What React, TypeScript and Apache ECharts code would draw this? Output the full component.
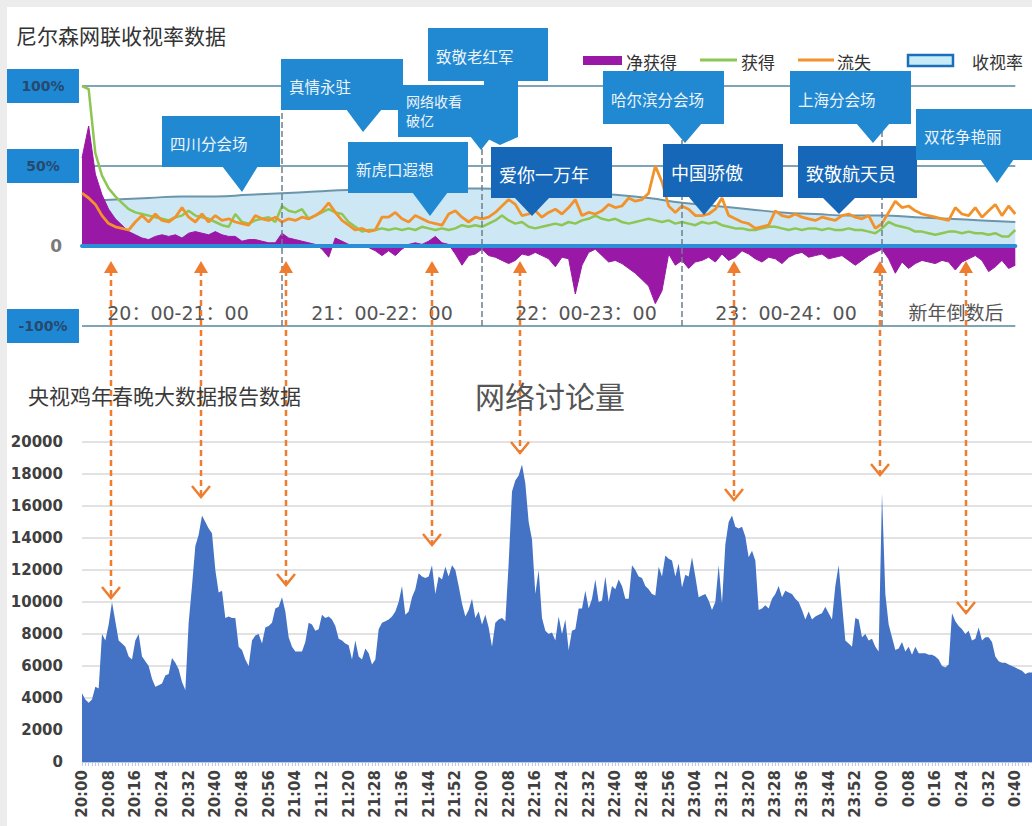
import React, { useEffect, useRef } from "react";
import * as echarts from "echarts";

// ---------- DATA ----------
// Top chart (Nielsen), one value every 2 minutes from 20:00 to 0:40 (percent)
const gainData = [
  100, 98, 58, 44, 36, 31, 27, 23, 21, 20,
  19, 18, 17, 16, 18, 19, 22, 19, 18, 17,
  15, 13, 12, 20, 15, 14, 16, 17, 18, 15,
  25, 22, 21, 23, 17, 19, 21, 23, 21, 20,
  15, 12, 9, 10, 10, 11, 10, 11, 10, 11,
  10, 12, 11, 10, 11, 10, 11, 13, 12, 13,
  12, 14, 16, 19, 16, 14, 15, 12, 11, 12,
  13, 14, 13, 15, 14, 16, 17, 19, 17, 16,
  17, 15, 14, 15, 16, 17, 16, 15, 16, 14,
  15, 14, 13, 15, 14, 15, 13, 12, 11, 11,
  10, 10, 11, 12, 12, 11, 10, 11, 10, 11,
  11, 10, 11, 10, 10, 11, 10, 10, 9, 8,
  11, 15, 13, 12, 11, 9, 9, 8, 7, 8,
  9, 9, 8, 9, 8, 8, 7, 8, 6, 6,
  10,
];
const lossData = [
  33, 30, 26, 19, 14, 12, 11, 10, 15, 19,
  15, 20, 16, 15, 18, 24, 18, 15, 20, 15,
  19, 16, 17, 15, 14, 13, 19, 17, 16, 18,
  15, 17, 16, 18, 17, 19, 22, 27, 21, 16,
  13, 10, 11, 9, 10, 18, 18, 21, 17, 15,
  19, 17, 15, 14, 13, 20, 22, 18, 15, 18,
  17, 18, 21, 25, 29, 26, 19, 20, 22, 18,
  21, 23, 20, 24, 29, 19, 21, 20, 22, 26,
  24, 25, 30, 28, 29, 33, 50, 40, 25, 21,
  25, 23, 19, 19, 20, 23, 30, 19, 17, 15,
  14, 11, 12, 13, 22, 19, 18, 20, 18, 17,
  16, 18, 17, 16, 19, 20, 18, 17, 19, 11,
  14, 21, 28, 24, 25, 22, 20, 19, 18, 17,
  16, 24, 20, 19, 24, 18, 22, 26, 19, 25,
  20,
];
const netData = [
  55, 75, 45, 32, 23, 17, 13, 9, 7, 5,
  4, 6, 7, 6, 7, 5, 8, 9, 8, 7,
  9, 7, 6, 6, 3, 4, 4, 3, 2, 2,
  8, 5, 4, 3, 2, 1, -2, -7, 5, 3,
  1, 0, 1, -1, -3, -6, -3, -6, -2, 1,
  2, 1, 3, 6, 2, 1, -5, -12, -6, -5,
  -2, -6, -7, -9, -11, -9, -5, -6, -4, -6,
  -8, -13, -7, -8, -30, -12, -4, -2, -6, -10,
  -9, -11, -14, -17, -21, -25, -36, -28, -5, -12,
  -9, -14, -10, -9, -7, -10, -5, -9, -7, -3,
  -5, -8, -10, -7, -8, -11, -7, -5, -4, -7,
  -6, -5, -8, -7, -6, -9, -12, -9, -6, -4,
  -2, -8, -17, -10, -14, -11, -9, -10, -11, -9,
  -10, -15, -10, -8, -6, -9, -16, -13, -9, -14,
  -12,
];
// Rating, one value every 10 minutes from 20:00 to 0:40
const ratingData = [
  28, 29, 30, 31, 31, 32, 33, 34, 35, 35,
  36, 36, 36, 35, 34, 33, 32, 30, 27, 25,
  23, 21, 20, 19, 19, 18, 17, 16, 15,
];
// Top axis tick labels
const topAxisTicks = [100, 50, 0, -50];
const topAxisTickText = ["100%", "50%", "0", "-100%"];
const hourBands = ["20：00-21：00", "21：00-22：00", "22：00-23：00", "23：00-24：00", "新年倒数后"];
const hourLines = ["21:00", "22:00", "23:00", "0:00"];

// Bottom chart: network discussion volume, one value per minute from 20:00
const discussionData = [
  4300, 3900, 3700, 3900, 4700, 4600, 8000, 7600, 8600, 10000,
  8800, 7600, 7400, 7200, 6600, 6400, 7600, 8000, 6600, 6300,
  6000, 5200, 4700, 4800, 4900, 5400, 5500, 6500, 6200, 5800,
  5000, 4500, 8700, 11000, 13500, 14200, 15400, 15000, 14600, 14300,
  12000, 10600, 10700, 9000, 9100, 9000, 9000, 7200, 7000, 6400,
  6000, 7600, 7900, 8000, 7400, 8400, 8500, 8700, 9600, 9700,
  10300, 9400, 7800, 7200, 6900, 6900, 6900, 7500, 8700, 8600,
  8200, 8300, 9200, 9000, 9100, 8900, 8500, 7700, 7600, 7400,
  7300, 6400, 7600, 6600, 6400, 7100, 6800, 6100, 6400, 8300,
  8700, 8800, 8900, 9100, 9400, 10000, 11000, 9200, 9400, 10300,
  10800, 11800, 11600, 11500, 11600, 12300, 10500, 11600, 11400, 12200,
  11600, 12300, 12000, 11000, 9900, 9100, 9500, 10200, 9000, 9400,
  8600, 9200, 8400, 7200, 8700, 8900, 9000, 8800, 12400, 16900,
  17600, 17900, 18600, 17400, 15000, 13900, 10500, 12000, 9000, 8200,
  8000, 8100, 7600, 9100, 8000, 8900, 7000, 8200, 8300, 9600,
  9600, 10700, 9600, 10200, 11400, 10000, 10100, 11600, 10000, 11000,
  10800, 11400, 11000, 10200, 10200, 12300, 12000, 11600, 11500, 11000,
  10800, 10500, 10400, 12200, 11600, 12900, 12700, 12600, 11600, 12400,
  10900, 11700, 11600, 12800, 11600, 10300, 10400, 10500, 10100, 9500,
  10000, 12300, 9900, 13600, 15000, 15400, 14700, 14600, 14700, 14100,
  12800, 13200, 12600, 9500, 9600, 9800, 9600, 10200, 10500, 11000,
  10300, 10700, 10600, 10500, 10200, 10000, 9500, 8900, 9400, 8900,
  9100, 9200, 9300, 9700, 9300, 8900, 11000, 12300, 9900, 7600,
  7400, 7200, 9000, 8900, 7800, 8000, 7600, 7700, 7200, 6900,
  16800, 10500, 8600, 7800, 7000, 7100, 7500, 6900, 7200, 6700,
  7200, 6800, 6800, 6800, 6700, 6700, 6600, 6400, 6000, 5900,
  6100, 9300, 8800, 8500, 8300, 8000, 8200, 7600, 7700, 8400,
  7600, 7800, 7800, 7500, 6600, 6300, 6200, 6200, 6100, 6000,
  5900, 5800, 5700, 5500, 5600, 5600,
];

// Callout annotations on the top chart
const callouts = [
  { lines: ["四川分会场"], x: 162, y: 116, w: 118, h: 51, dark: false, ptr: [222, 258, 242, 192] },
  { lines: ["真情永驻"], x: 281, y: 59, w: 122, h: 51, dark: false, ptr: [346, 382, 363, 132] },
  { lines: ["致敬老红军"], x: 428, y: 28, w: 120, h: 53, dark: false, ptr: null, tail: [484, 81, 34, 56] },
  { lines: ["网络收看", "破亿"], x: 398, y: 85, w: 88, h: 52, dark: false, ptr: [470, 492, 481, 150], small: true },
  { lines: ["新虎口遐想"], x: 348, y: 142, w: 120, h: 51, dark: false, ptr: [412, 448, 430, 216] },
  { lines: ["爱你一万年"], x: 491, y: 147, w: 121, h: 51, dark: true, ptr: [514, 550, 532, 216] },
  { lines: ["哈尔滨分会场"], x: 603, y: 71, w: 121, h: 53, dark: false, ptr: [668, 702, 685, 143] },
  { lines: ["中国骄傲"], x: 663, y: 144, w: 120, h: 53, dark: true, ptr: [688, 720, 704, 215] },
  { lines: ["上海分会场"], x: 790, y: 71, w: 121, h: 53, dark: false, ptr: [856, 890, 873, 143] },
  { lines: ["致敬航天员"], x: 798, y: 146, w: 119, h: 52, dark: true, ptr: [822, 856, 839, 214] },
  { lines: ["双花争艳丽"], x: 916, y: 109, w: 116, h: 51, dark: false, ptr: [980, 1014, 997, 183] },
];

// Orange linking arrows: [x, tip y of the downward head]
const linkArrows = [
  [111, 598], [201, 497], [286, 585], [432, 545], [520, 453], [734, 500], [880, 475], [966, 613],
];

function timeLabels(n: number, step: number): string[] {
  const out: string[] = [];
  for (let i = 0; i < n; i++) {
    const t = 20 * 60 + i * step;
    const h = Math.floor(t / 60) % 24;
    const m = t % 60;
    out.push(`${h}:${String(m).padStart(2, "0")}`);
  }
  return out;
}

const CJK = "'Noto Sans CJK SC', 'DejaVu Sans', sans-serif";
const NUM = "'DejaVu Sans', sans-serif";
const ORANGE = "#ee7d2f";
const PURPLE = "#9a18a6";
const GREEN = "#8dc653";
const LOSS = "#f2922b";

export default function App() {
  const ref = useRef<HTMLDivElement>(null);

  useEffect(() => {
    if (!ref.current) return;
    const chart = echarts.init(ref.current, null, { renderer: "svg" });

    const topCats = timeLabels(gainData.length, 2);
    const ratingCats = timeLabels(ratingData.length, 10);
    const bottomCats = timeLabels(discussionData.length, 1);

    const graphics: any[] = [];

    // titles
    graphics.push(
      { type: "text", x: 16, y: 35, z: 100, style: { text: "尼尔森网联收视率数据", font: `21px ${CJK}`, fill: "#333", textVerticalAlign: "middle" } },
      { type: "text", x: 28, y: 395, z: 100, style: { text: "央视鸡年春晚大数据报告数据", font: `21px ${CJK}`, fill: "#3a3a3a", textVerticalAlign: "middle" } },
      { type: "text", x: 550, y: 395, z: 100, style: { text: "网络讨论量", font: `30px ${CJK}`, fill: "#555", textAlign: "center", textVerticalAlign: "middle" } }
    );

    // legend
    graphics.push(
      { type: "rect", z: 100, shape: { x: 583, y: 56, width: 39, height: 9 }, style: { fill: PURPLE } },
      { type: "text", x: 626, y: 61, z: 100, style: { text: "净获得", font: `17px ${CJK}`, fill: "#333", textVerticalAlign: "middle" } },
      { type: "line", z: 100, shape: { x1: 700, y1: 60, x2: 737, y2: 60 }, style: { stroke: GREEN, lineWidth: 3 } },
      { type: "text", x: 741, y: 61, z: 100, style: { text: "获得", font: `17px ${CJK}`, fill: "#333", textVerticalAlign: "middle" } },
      { type: "line", z: 100, shape: { x1: 798, y1: 60, x2: 834, y2: 60 }, style: { stroke: LOSS, lineWidth: 3 } },
      { type: "text", x: 837, y: 61, z: 100, style: { text: "流失", font: `17px ${CJK}`, fill: "#333", textVerticalAlign: "middle" } },
      { type: "rect", z: 100, shape: { x: 908, y: 55, width: 45, height: 11 }, style: { fill: "#c7ecf8", stroke: "#1b6fb8", lineWidth: 2.5 } },
      { type: "text", x: 972, y: 61, z: 100, style: { text: "收视率", font: `17px ${CJK}`, fill: "#333", textVerticalAlign: "middle" } }
    );

    // hour band labels
    const bandCenters = [178, 382, 586, 786, 956];
    hourBands.forEach((t, i) => {
      graphics.push({ type: "text", x: bandCenters[i], y: 313, z: 90, style: { text: t, font: `19px ${NUM}, 'Noto Sans CJK SC'`, fill: "#555", textAlign: "center", textVerticalAlign: "middle" } });
    });

    // callouts
    callouts.forEach((c: any) => {
      const fill = c.dark ? "#1767b8" : "#2089d2";
      const fs = c.dark ? 18 : c.small ? 14 : 15.5;
      graphics.push({ type: "rect", z: 110, shape: { x: c.x, y: c.y, width: c.w, height: c.h }, style: { fill } });
      if (c.tail) {
        graphics.push({ type: "rect", z: 109, shape: { x: c.tail[0], y: c.tail[1], width: c.tail[2], height: c.tail[3] }, style: { fill } });
        graphics.push({ type: "polygon", z: 109, shape: { points: [[c.tail[0], c.tail[1] + c.tail[3]], [c.tail[0] + c.tail[2], c.tail[1] + c.tail[3]], [c.tail[0] + 16, c.tail[1] + c.tail[3] + 8]] }, style: { fill } });
      }
      if (c.ptr) {
        const by = c.y + c.h;
        graphics.push({ type: "polygon", z: 110, shape: { points: [[c.ptr[0], by - 1], [c.ptr[1], by - 1], [c.ptr[2], c.ptr[3]]] }, style: { fill } });
      }
      const n = c.lines.length;
      c.lines.forEach((ln: string, k: number) => {
        const cy = n === 1 ? c.y + c.h / 2 + 1 : c.y + 16 + k * 19;
        graphics.push({ type: "text", x: c.x + 8, y: cy, z: 111, style: { text: ln, font: `${fs}px ${CJK}`, fill: c.dark ? "#ffffff" : "#eef4fa", textVerticalAlign: "middle" } });
      });
    });

    // arrows
    linkArrows.forEach(([x, tip]) => {
      graphics.push(
        { type: "line", z: 95, shape: { x1: x, y1: 270, x2: x, y2: tip - 2 }, style: { stroke: ORANGE, lineWidth: 2.5, lineDash: [6, 4] } },
        { type: "polygon", z: 95, shape: { points: [[x - 7, 273], [x, 261], [x + 7, 273]] }, style: { fill: ORANGE } },
        { type: "polyline", z: 95, shape: { points: [[x - 9, tip - 11], [x, tip], [x + 9, tip - 11]] }, style: { stroke: ORANGE, lineWidth: 2.5, fill: null } }
      );
    });

    const topLabelFmt = (v: number) => {
      const i = topAxisTicks.indexOf(v);
      if (i < 0) return "";
      return v === 0 ? `{z|${topAxisTickText[i]}}` : `{b|${topAxisTickText[i]}}`;
    };

    chart.setOption({
      animation: false,
      backgroundColor: "transparent",
      grid: [
        { left: 82, right: 16.7, top: 86, height: 240, outerBoundsMode: "none" },
        { left: 82, right: 0, top: 442, height: 320, outerBoundsMode: "none" },
      ],
      xAxis: [
        {
          gridIndex: 0, type: "category", data: topCats, boundaryGap: false, z: 5,
          axisLine: { show: true, onZero: true, lineStyle: { color: "#2b8ed6", width: 4 } },
          axisTick: { show: false }, axisLabel: { show: false }, splitLine: { show: false },
        },
        { gridIndex: 0, type: "category", data: ratingCats, boundaryGap: false, show: false },
        {
          gridIndex: 1, type: "category", data: bottomCats, boundaryGap: false,
          axisLine: { show: true, lineStyle: { color: "#b9cbe8", width: 1 } },
          axisTick: { show: true, interval: 0, length: 4, lineStyle: { color: "#b9cbe8" } },
          axisLabel: { interval: 7, rotate: 90, margin: 8, fontFamily: NUM, fontWeight: "bold", fontSize: 15, color: "#404040" },
          splitLine: { show: false },
        },
      ],
      yAxis: [
        {
          gridIndex: 0, type: "value", min: -50, max: 100, interval: 50,
          axisLine: { show: false }, axisTick: { show: false },
          axisLabel: {
            margin: 3, formatter: topLabelFmt,
            rich: {
              b: { backgroundColor: "#1e88d4", color: "#27496d", fontSize: 14, fontWeight: "bold", fontFamily: NUM, width: 56, height: 16, padding: [9, 8], align: "center" },
              z: { color: "#7a7a7a", fontSize: 17, fontWeight: "bold", fontFamily: NUM, padding: [0, 17, 0, 0] },
            },
          },
          splitLine: { show: true, lineStyle: { color: "#7ea5b5", width: 2 } },
        },
        {
          gridIndex: 1, type: "value", min: 0, max: 20000, interval: 2000,
          axisLine: { show: false }, axisTick: { show: false },
          axisLabel: { margin: 19, fontFamily: NUM, fontWeight: "bold", fontSize: 15, color: "#404040", formatter: (v: number) => String(v) },
          splitLine: { show: true, lineStyle: { color: "#d9d9d9", width: 1.5 } },
        },
      ],
      series: [
        {
          name: "收视率", type: "line", xAxisIndex: 1, yAxisIndex: 0, data: ratingData, smooth: true,
          showSymbol: false, z: 1,
          lineStyle: { color: "#6b95ab", width: 2 },
          areaStyle: { color: "#cde7f5", opacity: 1 },
          markLine: {
            silent: true, symbol: ["none", "none"], label: { show: false },
            lineStyle: { type: "dashed", color: "#6f7f8c", width: 1.5 },
            data: hourLines.map((h) => ({ xAxis: h })),
          },
        },
        {
          name: "净获得", type: "line", xAxisIndex: 0, yAxisIndex: 0, data: netData, showSymbol: false, z: 2,
          lineStyle: { color: PURPLE, width: 1 },
          areaStyle: { color: PURPLE, opacity: 1 },
        },
        {
          name: "获得", type: "line", xAxisIndex: 0, yAxisIndex: 0, data: gainData, showSymbol: false, z: 3,
          lineStyle: { color: GREEN, width: 2.5 },
        },
        {
          name: "流失", type: "line", xAxisIndex: 0, yAxisIndex: 0, data: lossData, showSymbol: false, z: 4,
          lineStyle: { color: LOSS, width: 2.8 },
        },
        {
          name: "网络讨论量", type: "line", xAxisIndex: 2, yAxisIndex: 1, data: discussionData, showSymbol: false,
          lineStyle: { width: 0, color: "#4472c4" },
          areaStyle: { color: "#4472c4", opacity: 1 },
        },
      ],
      graphic: graphics,
    });

    return () => chart.dispose();
  }, []);

  return (
    <div style={{ position: "fixed", left: 0, top: 0, width: 1032, height: 826, background: "#ececec", overflow: "hidden" }}>
      <div style={{ position: "absolute", left: 7, top: 7, width: 1025, height: 819, background: "#ffffff" }} />
      <div ref={ref} style={{ position: "absolute", left: 0, top: 0, width: 1032, height: 826 }} />
    </div>
  );
}
